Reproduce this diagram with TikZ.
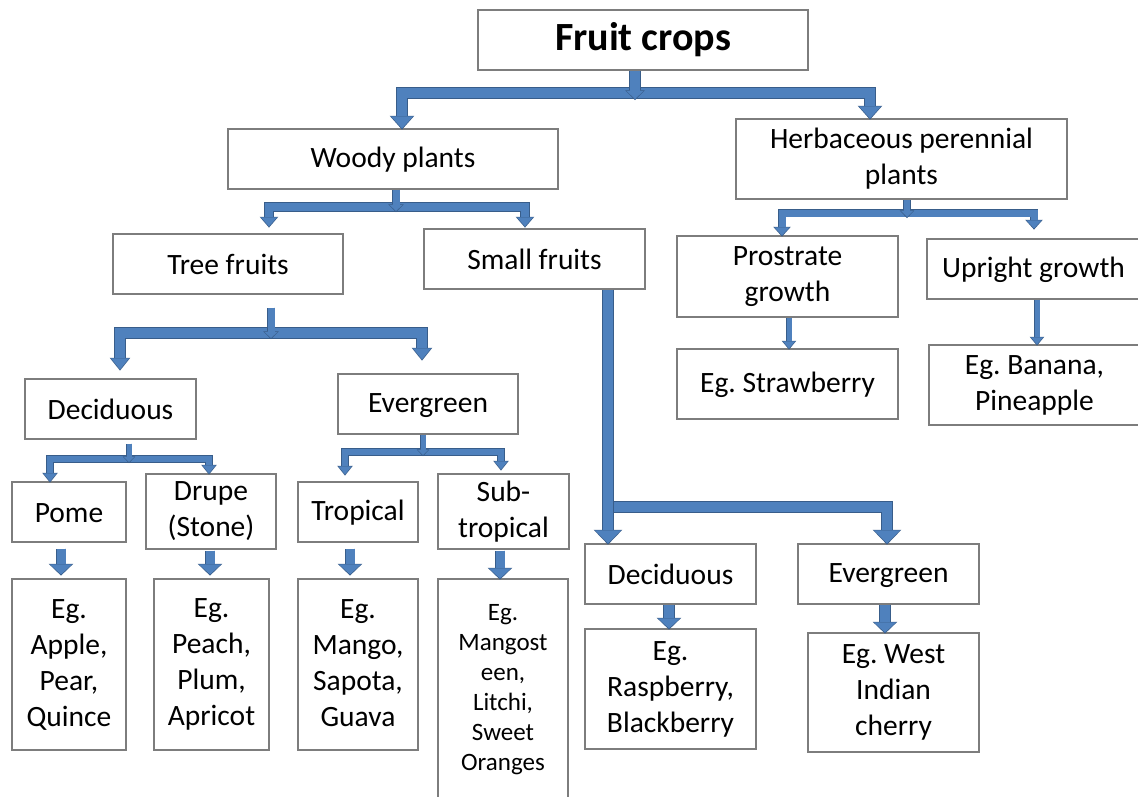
\documentclass[tikz,border=0pt]{standalone}
\usepackage{fontspec}
\setmainfont{Carlito}
\frenchspacing
\usetikzlibrary{arrows.meta,calc}
\definecolor{afill}{RGB}{79,129,189}
\definecolor{adark}{RGB}{56,93,138}
\definecolor{boxgray}{RGB}{125,125,125}
\newcommand\linestrut{\rule[-2pt]{0pt}{24pt}}
\tikzset{
 box/.style 2 args={draw=boxgray, line width=1.2pt, fill=white, inner sep=0pt, align=center,
   minimum width=#1pt, minimum height=#2pt, text=black, font=\fontsize{29.5}{36}\selectfont,
   execute at begin node=\linestrut, execute at end node=\linestrut},
 blk/.style n args={3}{/utils/exec={\pgfmathsetmacro\bw{#1+1.6}\pgfmathsetmacro\bW{#2+2.6}\pgfmathsetmacro\bL{#3+1.8}},
   draw=afill, line width=#1pt, line join=miter,
   -{Triangle[width=#2pt,length=#3pt,line width=0pt,color=afill,fill=afill]},
   preaction={draw=adark, line width=\bw pt, shorten >=-1.2pt,
     -{Triangle[width=\bW pt,length=\bL pt,line width=0pt,color=adark,fill=adark]}}},
 blkb/.style n args={3}{/utils/exec={\pgfmathsetmacro\bw{#1+1.6}\pgfmathsetmacro\bW{#2+2.6}\pgfmathsetmacro\bL{#3+1.8}},
   draw=afill, line width=#1pt, line join=miter,
   {Triangle[width=#2pt,length=#3pt,line width=0pt,color=afill,fill=afill]}-{Triangle[width=#2pt,length=#3pt,line width=0pt,color=afill,fill=afill]},
   preaction={draw=adark, line width=\bw pt, shorten >=-1.2pt, shorten <=-1.2pt,
     {Triangle[width=\bW pt,length=\bL pt,line width=0pt,color=adark,fill=adark]}-{Triangle[width=\bW pt,length=\bL pt,line width=0pt,color=adark,fill=adark]}}}
}
\begin{document}
\begin{tikzpicture}[x=1pt,y=-1pt]
\useasboundingbox[fill=white] (0,0) rectangle (1138,796);

% nodes
\node[box={330}{60}, font=\fontsize{40}{48}\selectfont\bfseries] (fc) at (643,40) {Fruit crops};
\node[box={330}{60}] (woody) at (393,159) {Woody plants};
\node[box={331}{80}] (herb) at (901.5,159) {Herbaceous perennial\\plants};
\node[box={230}{60}] (tree) at (228,264) {Tree fruits};
\node[box={221}{60}] (small) at (534.5,259) {Small fruits};
\node[box={221}{81}] (prost) at (787.5,276.5) {Prostrate\\growth};
\node[box={213}{60}] (upright) at (1033.5,269) {Upright growth};
\node[box={221}{70}] (straw) at (787.5,384) {Eg. Strawberry};
\node[box={211}{80}] (banana) at (1034.5,385) {Eg. Banana,\\Pineapple};
\node[box={171}{60}] (dec1) at (110.5,409) {Deciduous};
\node[box={180}{60}] (ever1) at (428,404) {Evergreen};
\node[box={114}{60}] (pome) at (69,512) {Pome};
\node[box={130}{75}] (drupe) at (211,511.5) {Drupe\\(Stone)};
\node[box={120}{60}] (trop) at (358,512) {Tropical};
\node[box={131}{75}] (sub) at (503.5,511.5) {Sub-\\tropical};
\node[box={114}{171}] (apple) at (69,664.5) {Eg.\\Apple,\\Pear,\\Quince};
\node[box={115}{171}] (peach) at (211.5,664.5) {Eg.\\Peach,\\Plum,\\Apricot};
\node[box={120}{171}] (mango) at (358,664.5) {Eg.\\Mango,\\Sapota,\\Guava};
\node[box={130}{222}, font=\fontsize{25}{30}\selectfont] (mangos) at (503,690) {Eg.\\Mangost\\een,\\Litchi,\\Sweet\\Oranges};
\node[box={171}{60}] (dec2) at (670.5,574) {Deciduous};
\node[box={181}{60}] (ever2) at (888.5,574) {Evergreen};
\node[box={171}{120}] (rasp) at (670.5,689) {Eg.\\Raspberry,\\Blackberry};
\node[box={171}{119}] (west) at (893.5,692.5) {Eg. West\\Indian\\cherry};

% junction points
\coordinate (j1) at (635,93);
\coordinate (j2) at (396,207);
\coordinate (j3) at (907,213);
\coordinate (j4) at (271,333);
\coordinate (j5) at (129,459);
\coordinate (j6) at (423,452);
\coordinate (j7) at (603,507);

% top
\draw[blkb={10}{22}{12}] (woody.north -| 402,0) |- (j1) -| (herb.north -| 870,0);
\draw[blk={10}{17}{8}] (fc.south -| j1) -- ($(j1)+(0,6)$);
% woody
\draw[blkb={8}{16}{9}] ($(tree.north -| 269,0)+(0,-7)$) |- (j2) -| ($(small.north -| 525,0)+(0,-2)$);
\draw[blk={7}{13}{6}] (woody.south -| j2) -- ($(j2)+(0,4)$);
% herbaceous
\draw[blkb={7}{15}{8}] (prost.north -| 782,0) |- (j3) -| ($(upright.north -| 1034,0)+(0,-10)$);
\draw[blk={6}{12}{6}] (herb.south -| j3) -- ($(j3)+(0,4)$);
% tree fruits
\draw[blkb={10}{18}{11}] ($(dec1.north -| 120,0)+(0,-9)$) |- (j4) -| ($(ever1.north -| 422,0)+(0,-14)$);
\draw[blk={7}{13}{6}] ($(tree.south -| j4)+(0,13)$) -- ($(j4)+(0,5)$);
% deciduous
\draw[blkb={6}{13}{8}] (pome.north -| 50,0) |- (j5) -| (drupe.north -| 209,0);
\draw[blk={5}{10}{5}] ($(dec1.south -| j5)+(0,4)$) -- ($(j5)+(0,3)$);
% evergreen
\draw[blkb={6}{13}{8}] ($(trop.north -| 345,0)+(0,-7)$) |- (j6) -| ($(sub.north -| 501,0)+(0,-4)$);
\draw[blk={5}{10}{5}] (ever1.south -| j6) -- ($(j6)+(0,3)$);
% small fruits
\draw[blk={10}{26}{13}] (j7) -| (ever2.north -| 887,0);
\draw[blk={10}{26}{13}] (small.south -| 608,0) -- (dec2.north -| 608,0);

% single arrows
\draw[blk={9}{22}{10}] ($(pome.south -| 61,0)+(0,6)$) -- ($(apple.north -| 61,0)+(0,-4)$);
\draw[blk={9}{22}{10}] ($(drupe.south -| 210,0)+(0,1)$) -- ($(peach.north -| 210,0)+(0,-4)$);
\draw[blk={9}{22}{10}] ($(trop.south -| 350,0)+(0,6)$) -- ($(mango.north -| 350,0)+(0,-4)$);
\draw[blk={9}{22}{10}] ($(sub.south -| 500,0)+(0,1)$) -- (mangos.north -| 500,0);
\draw[blk={5}{12}{7}] (prost.south -| 789,0) -- (straw.north -| 789,0);
\draw[blk={5}{12}{7}] (upright.south -| 1037,0) -- (banana.north -| 1037,0);
\draw[blk={10}{22}{10}] (dec2.south -| 669,0) -- (rasp.north -| 669,0);
\draw[blk={10}{22}{10}] (ever2.south -| 885,0) -- (west.north -| 885,0);
\end{tikzpicture}
\end{document}
